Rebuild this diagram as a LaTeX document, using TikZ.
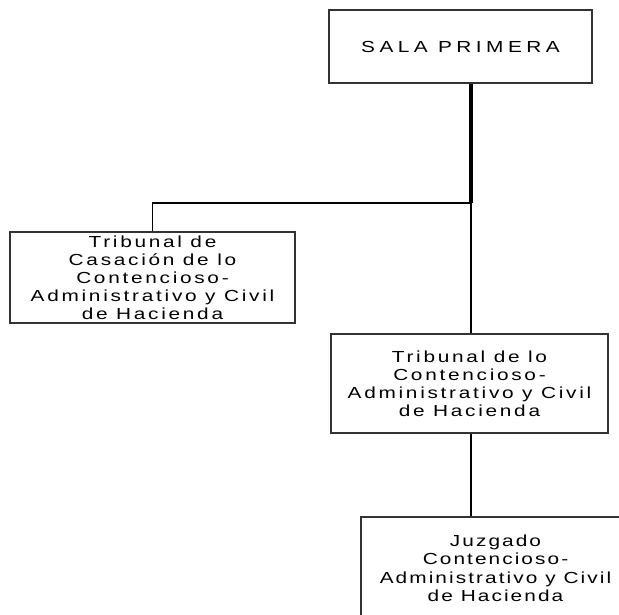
\documentclass[tikz,border=0pt]{standalone}
\usepackage{fontspec}
\setmainfont{Liberation Sans}[FakeStretch=1.3,LetterSpace=17]
\newfontfamily\topfont{Liberation Sans}[FakeStretch=1.3,LetterSpace=28]
\newfontfamily\botfont{Liberation Sans}[FakeStretch=1.3,LetterSpace=13]
\begin{document}
\begin{tikzpicture}[x=1pt,y=-1pt,
  box/.style={draw=black!80,line width=1.3pt,fill=white,rectangle,inner sep=0pt,
    align=center,font=\fontsize{16}{18}\selectfont},
  conn/.style={draw=black,line width=1.3pt},
  trunk/.style={draw=black,line width=3.5pt}]
\useasboundingbox (0,0) rectangle (619,614);
\clip (0,0) rectangle (619,614);
\node[box,minimum width=263pt,minimum height=73pt,font=\fontsize{16}{18}\topfont] (top) at (460.5,46.5) {SALA PRIMERA};
\node[box,minimum width=285pt,minimum height=91pt] (left) at (152.5,277.5)
  {Tribunal de\\Casación de lo\\Contencioso-\\Administrativo y Civil\\de Hacienda};
\node[box,minimum width=277pt,minimum height=99pt] (mid) at (469.5,383.5)
  {Tribunal de lo\\Contencioso-\\Administrativo y Civil\\de Hacienda};
\node[box,minimum width=269pt,minimum height=103pt,font=\fontsize{16}{18.5}\botfont] (bot) at (495.5,568.5)
  {Juzgado\\Contencioso-\\Administrativo y Civil\\de Hacienda};
\coordinate (j) at (471,203);
\draw[trunk] (top.south -| j) -- (j);
\draw[conn] (j) -- (mid.north -| j);
\draw[conn] (j) -| (left.north);
\draw[conn] (mid.south -| j) -- (bot.north -| j);
\end{tikzpicture}
\end{document}
